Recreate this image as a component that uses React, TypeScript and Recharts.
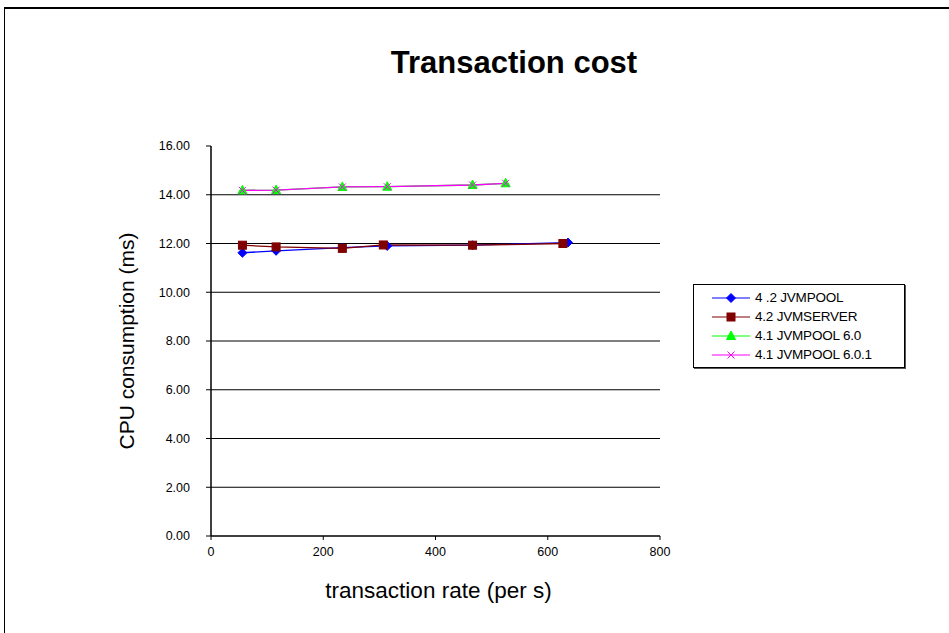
import React from "react";
import { LineChart, Line, XAxis, YAxis, ReferenceLine, Label } from "recharts";

// Transaction rate (per s) and CPU cost (ms) for each configuration
const jvmPool42X = [56, 116, 234, 314, 466, 636];
const jvmPool42Y = [11.62, 11.7, 11.83, 11.9, 11.93, 12.04];

const jvmServer42X = [56, 116, 234, 307, 466, 627];
const jvmServer42Y = [11.93, 11.86, 11.8, 11.94, 11.93, 12.0];

const jvmPool41X = [56, 116, 234, 314, 466, 525];
const jvmPool41Y = [14.18, 14.19, 14.32, 14.33, 14.4, 14.47];

const jvmPool401X = [56, 116, 234, 314, 466, 525];
const jvmPool401Y = [14.18, 14.19, 14.32, 14.33, 14.4, 14.47];

const seriesNames = ["4 .2 JVMPOOL", "4.2 JVMSERVER", "4.1 JVMPOOL 6.0", "4.1 JVMPOOL 6.0.1"];
const seriesColors = ["#0000FF", "#800000", "#00FF00", "#FF00FF"];

const xTicks = [0, 200, 400, 600, 800];
const yTicks = [0, 2, 4, 6, 8, 10, 12, 14, 16];
const gridValues = [2, 4, 6, 8, 10, 12, 14];

const toPoints = (xs: number[], ys: number[]) => xs.map((x, i) => ({ x, y: ys[i] }));

const seriesData = [
  toPoints(jvmPool42X, jvmPool42Y),
  toPoints(jvmServer42X, jvmServer42Y),
  toPoints(jvmPool41X, jvmPool41Y),
  toPoints(jvmPool401X, jvmPool401Y),
];

const FONT = "'Liberation Sans', Arial, sans-serif";

function Marker({ kind, cx, cy, color }: { kind: number; cx: number; cy: number; color: string }) {
  if (cx == null || cy == null) return null;
  if (kind === 0) {
    const r = 4.5;
    return <polygon points={`${cx},${cy - r} ${cx + r},${cy} ${cx},${cy + r} ${cx - r},${cy}`} fill={color} stroke={color} />;
  }
  if (kind === 1) {
    return <rect x={cx - 4} y={cy - 4} width={8} height={8} fill={color} stroke={color} />;
  }
  if (kind === 2) {
    return <polygon points={`${cx},${cy - 5} ${cx + 4.5},${cy + 3.5} ${cx - 4.5},${cy + 3.5}`} fill={color} stroke={color} />;
  }
  const r = 3.5;
  return (
    <g stroke={color} strokeWidth={1}>
      <line x1={cx - r} y1={cy - r} x2={cx + r} y2={cy + r} />
      <line x1={cx - r} y1={cy + r} x2={cx + r} y2={cy - r} />
    </g>
  );
}

function LegendBox() {
  return (
    <div
      style={{
        position: "absolute",
        left: 693,
        top: 284,
        width: 212,
        height: 84,
        border: "1px solid #000",
        boxShadow: "1px 1px 0 #555",
        background: "#fff",
        boxSizing: "border-box",
        paddingTop: 3,
      }}
    >
      {seriesNames.map((name, i) => (
        <div key={name} style={{ display: "flex", alignItems: "center", height: 19 }}>
          <svg width={61} height={14} style={{ flex: "none" }}>
            <line x1={18} y1={7} x2={56} y2={7} stroke={seriesColors[i]} strokeWidth={1.2} />
            <Marker kind={i} cx={37} cy={7} color={seriesColors[i]} />
          </svg>
          <span style={{ fontFamily: FONT, fontSize: 13.5, color: "#000", letterSpacing: -0.2 }}>{name}</span>
        </div>
      ))}
    </div>
  );
}

export default function App() {
  return (
    <div style={{ position: "absolute", left: 0, top: 0, width: 949, height: 633, background: "#fff" }}>
      <div
        style={{
          position: "absolute",
          left: 4,
          top: 7,
          width: 945,
          height: 626,
          borderLeft: "1px solid #000",
          borderTop: "2px solid #000",
          boxSizing: "border-box",
        }}
      />
      <div
        style={{
          position: "absolute",
          left: 0,
          width: 1028,
          top: 45,
          textAlign: "center",
          fontFamily: FONT,
          fontWeight: "bold",
          fontSize: 31,
          lineHeight: "36px",
          color: "#000",
        }}
      >
        Transaction cost
      </div>
      <div style={{ position: "absolute", left: 0, top: 0 }}>
        <LineChart width={949} height={633} margin={{ top: 146, right: 289, bottom: 57, left: 151 }}>
          <XAxis
            type="number"
            dataKey="x"
            domain={[0, 800]}
            ticks={xTicks}
            height={40}
            allowDuplicatedCategory={false}
            axisLine={{ stroke: "#000", strokeWidth: 1.5 }}
            tickLine={{ stroke: "#000" }}
            tickSize={4}
            tickMargin={7}
            tick={{ fill: "#000", fontSize: 12.5, fontFamily: FONT }}
          >
            <Label
              content={({ viewBox }: any) => (
                <text
                  x={viewBox.x + viewBox.width / 2 + 3}
                  y={598}
                  textAnchor="middle"
                  fontFamily={FONT}
                  fontSize={22.5}
                  fill="#000"
                >
                  transaction rate (per s)
                </text>
              )}
            />
          </XAxis>
          <YAxis
            type="number"
            dataKey="y"
            domain={[0, 16]}
            ticks={yTicks}
            width={60}
            axisLine={{ stroke: "#000", strokeWidth: 1.5 }}
            tickLine={{ stroke: "#000" }}
            tickSize={5}
            tickMargin={16}
            tickFormatter={(v: number) => v.toFixed(2)}
            tick={{ fill: "#000", fontSize: 12.5, fontFamily: FONT }}
          >
            <Label
              content={({ viewBox }: any) => {
                const cy = viewBox.y + viewBox.height / 2;
                return (
                  <text
                    x={134}
                    y={cy}
                    transform={`rotate(-90, 134, ${cy})`}
                    textAnchor="middle"
                    fontFamily={FONT}
                    fontSize={21}
                    fill="#000"
                  >
                    CPU consumption (ms)
                  </text>
                );
              }}
            />
          </YAxis>
          {gridValues.map((v) => (
            <ReferenceLine key={v} y={v} stroke="#000" strokeWidth={1.2} />
          ))}
          {seriesData.map((data, i) => (
            <Line
              key={seriesNames[i]}
              data={data}
              dataKey="y"
              name={seriesNames[i]}
              stroke={seriesColors[i]}
              strokeWidth={1.3}
              isAnimationActive={false}
              dot={(p: any) => <Marker key={`${i}-${p.index}`} kind={i} cx={p.cx} cy={p.cy} color={seriesColors[i]} />}
              activeDot={false}
            />
          ))}
        </LineChart>
      </div>
      <LegendBox />
    </div>
  );
}
